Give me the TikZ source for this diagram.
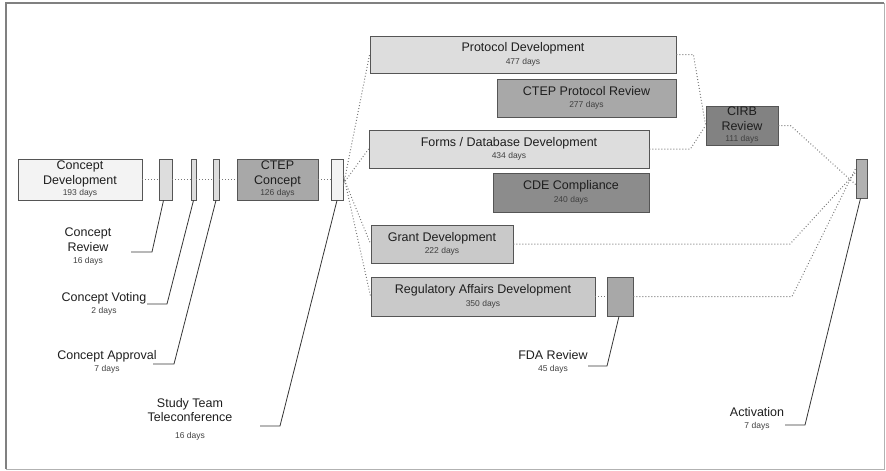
\documentclass[tikz,border=0pt]{standalone}
\usepackage{fontspec}
\setmainfont{Liberation Sans}
\definecolor{cA}{HTML}{F3F3F3}
\definecolor{cB}{HTML}{DDDDDD}
\definecolor{cC}{HTML}{C9C9C9}
\definecolor{cD}{HTML}{A8A8A8}
\definecolor{cE}{HTML}{8C8C8C}
\definecolor{cF}{HTML}{828282}
\definecolor{edge}{HTML}{555555}
\definecolor{dotc}{HTML}{777777}
\definecolor{txt}{HTML}{1E1E1E}
\newcommand{\dys}[1]{{\fontsize{8.5}{10}\selectfont\color{txt!85}#1}}
\begin{document}
\begin{tikzpicture}[x=1pt,y=-1pt,
  bx/.style={draw=edge, line width=0.8pt, inner sep=0pt, align=center,
    font=\fontsize{12.5}{14.5}\selectfont, text=txt},
  lbl/.style={inner sep=0pt, align=center, font=\fontsize{12.5}{14.5}\selectfont, text=txt},
  dotline/.style={dotc, line width=1pt, dash pattern=on 0.9pt off 2.1pt},
  leader/.style={draw=txt!90, line width=0.8pt}]
\useasboundingbox (0,0) rectangle (886,471);
\draw[gray!60, line width=1pt] (884,3) -- (884,469) -- (6,469);
\draw[gray, line width=1.3pt] (6,469) -- (6,3) -- (884,3);

% first row
\node[bx, fill=cA, minimum width=124pt, minimum height=41pt] (cd) at (80,179.5) {Concept\\Development\\[-3pt]\dys{193 days}};
\node[bx, fill=cB, minimum width=13pt, minimum height=41pt] (crv) at (165.5,179.5) {};
\node[bx, fill=cB, minimum width=5pt, minimum height=41pt] (cvt) at (193.5,179.5) {};
\node[bx, fill=cB, minimum width=6pt, minimum height=41pt] (cap) at (216,179.5) {};
\node[bx, fill=cD, minimum width=81pt, minimum height=41pt] (ctep) at (277.5,179.5) {CTEP\\Concept\\[-3pt]\dys{126 days}};
\node[bx, fill=cA, minimum width=12pt, minimum height=41pt] (stt) at (337,179.5) {};

% parallel tracks
\node[bx, fill=cB, minimum width=306pt, minimum height=37pt] (prot) at (523,54.5) {Protocol Development\\[-2pt]\dys{477 days}};
\node[bx, fill=cD, minimum width=179pt, minimum height=38pt] (cpr) at (586.5,98) {CTEP Protocol Review\\[-2pt]\dys{277 days}};
\node[bx, fill=cB, minimum width=280pt, minimum height=38pt] (forms) at (509,149) {Forms / Database Development\\[-2pt]\dys{434 days}};
\node[bx, fill=cE, minimum width=156pt, minimum height=39pt] (cde) at (571,192.5) {CDE Compliance\\[-2pt]\dys{240 days}};
\node[bx, fill=cC, minimum width=142pt, minimum height=38pt] (grant) at (442,244) {Grant Development\\[-2pt]\dys{222 days}};
\node[bx, fill=cC, minimum width=224pt, minimum height=39pt] (reg) at (483,296.5) {Regulatory Affairs Development\\[-2pt]\dys{350 days}};
\node[bx, fill=cD, minimum width=26pt, minimum height=39pt] (fda) at (620,296.5) {};
\node[bx, fill=cF, minimum width=72pt, minimum height=39pt] (cirb) at (742,125.5) {CIRB\\Review\\[-3pt]\dys{111 days}};
\node[bx, fill=cD!90, minimum width=11pt, minimum height=39pt] (act) at (861.5,178.5) {};

% dotted sequence connectors
\draw[dotline] (cd.east) -- (crv.west);
\draw[dotline] (crv.east) -- (cvt.west);
\draw[dotline] (cvt.east) -- (cap.west);
\draw[dotline] (cap.east) -- (ctep.west);
\draw[dotline] (ctep.east) -- (stt.west);
\draw[dotline] ([yshift=-6pt]stt.east) -- (prot.west);
\draw[dotline] ([yshift=-4pt]stt.east) -- (forms.west);
\draw[dotline] ([yshift=2pt]stt.east) -- (grant.west);
\draw[dotline] ([yshift=5pt]stt.east) -- (reg.west);
\draw[dotline] (reg.east) -- (fda.west);
\draw[dotline] (prot.east) -- ++(17,0) -- (cirb.west);
\draw[dotline] (forms.east) -- ++(41,0) -- (cirb.west);
\draw[dotline] (cirb.east) -- ++(12,0) -- ([yshift=-6pt]act.west);
\draw[dotline] (grant.east) -- (790,244) -- ([yshift=6pt]act.west);
\draw[dotline] (fda.east) -- (792,296.5) -- ([yshift=10pt]act.west);

% labels
\node[lbl] (lcr) at (88,247) {Concept\\Review\\[-2pt]\dys{16 days}};
\node[lbl] (lcv) at (104,304) {Concept Voting\\[-2pt]\dys{2 days}};
\node[lbl] (lca) at (107,362) {Concept Approval\\[-2pt]\dys{7 days}};
\node[lbl] (lst) at (190,419) {Study Team\\Teleconference\\[2pt]\dys{16 days}};
\node[lbl] (lfda) at (553,362) {FDA Review\\[-2pt]\dys{45 days}};
\node[lbl] (lact) at (757,419) {Activation\\[-2pt]\dys{7 days}};

\coordinate (pcr) at (131,252);
\coordinate (pcv) at (147,304);
\coordinate (pca) at (153,364);
\coordinate (pst) at (260,426);
\coordinate (pfda) at (588,366);
\coordinate (pact) at (785,425);
\draw[leader] (pcr) -- ++(21,0) -- ([xshift=-2pt]crv.south);
\draw[leader] (pcv) -- ++(20,0) -- (cvt.south);
\draw[leader] (pca) -- ++(21,0) -- (cap.south);
\draw[leader] (pst) -- ++(20,0) -- (stt.south);
\draw[leader] (pfda) -- ++(19,0) -- ([xshift=-1pt]fda.south);
\draw[leader] (pact) -- ++(20,0) -- ([xshift=-1pt]act.south);
\end{tikzpicture}
\end{document}
